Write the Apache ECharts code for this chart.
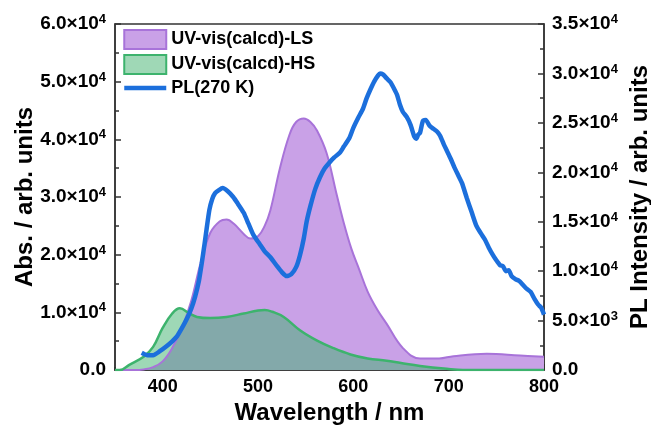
<!DOCTYPE html>
<html>
<head>
<meta charset="utf-8">
<script src="https://cdn.jsdelivr.net/npm/echarts@6/dist/echarts.min.js"></script>
<style>html,body{margin:0;padding:0;background:#fff;}#c{width:651px;height:425px;}</style>
</head>
<body>
<div id="c"></div>
<script>
// ---- data (values in units of 1e4) ----
var lsX = [350,370,380,390,400,410,420,430,440,450,460,467,475,485,492,500,507,513,523,533,540,548,555,562,572,582,590,598,606,615,625,635,652,670,690,705,740,775,800];
var lsY = [0,0,0.01,0.05,0.15,0.38,0.72,1.2,1.87,2.38,2.58,2.61,2.53,2.36,2.28,2.32,2.5,2.77,3.5,4.08,4.3,4.36,4.3,4.15,3.76,3.08,2.55,2.1,1.75,1.36,1.05,0.8,0.38,0.2,0.2,0.24,0.28,0.25,0.23];
var hsX = [350,355,365,380,390,400,410,418,428,436,450,467,485,500,507,515,527,544,562,579,597,615,635,650,670,698,715,800];
var hsY = [0,0,0.09,0.23,0.4,0.73,0.98,1.07,0.98,0.92,0.9,0.92,0.98,1.03,1.04,1.01,0.92,0.69,0.51,0.38,0.27,0.2,0.16,0.12,0.07,0.02,0,0];
var plX = [378,384,390,397,404,410,415,420,425,430,434,438,441,444,446,449,452,455,459,463,468,474,479,485,490,495,502,507,513,520,525,530,535,540,544,548,551,555,560,565,570,575,580,586,590,596,600,605,610,614,618,622,626,628,631,635,639,643,646,649,652,656,660,664,666,668,670,673,676,680,684,688,691,695,698,702,706,710,714,719,724,729,734,738,742,746,750,754,757,760,763,766,770,774,778,782,786,790,794,797,800];
var plY = [0.175,0.15,0.15,0.19,0.24,0.29,0.34,0.42,0.51,0.62,0.74,0.9,1.08,1.28,1.42,1.62,1.73,1.79,1.82,1.84,1.81,1.75,1.68,1.59,1.48,1.37,1.27,1.2,1.14,1.05,0.99,0.95,0.97,1.04,1.16,1.33,1.5,1.66,1.83,1.95,2.04,2.1,2.15,2.2,2.26,2.35,2.45,2.55,2.64,2.75,2.84,2.92,2.98,3.0,2.99,2.95,2.91,2.84,2.78,2.68,2.61,2.56,2.48,2.36,2.34,2.38,2.4,2.52,2.53,2.47,2.44,2.41,2.37,2.28,2.22,2.14,2.05,1.97,1.89,1.74,1.6,1.46,1.38,1.32,1.24,1.17,1.11,1.06,1.05,1.0,1.01,0.95,0.92,0.9,0.86,0.82,0.79,0.72,0.66,0.63,0.56];
var xTicks = [400,500,600,700,800];
var xMinor = [350,450,550,650,750];
var names = ['UV-vis(calcd)-LS','UV-vis(calcd)-HS','PL(270 K)'];

function pairs(xs, ys){ return xs.map(function(x,i){ return [x, ys[i]*1e4]; }); }
function sci(v){
  if (v === 0) return '{a|0.0}';
  var e = Math.floor(Math.log10(v) + 1e-9);
  var m = v / Math.pow(10, e);
  return '{a|' + m.toFixed(1) + '×10}{b|' + e + '}';
}
var FONT = 'Arial, "Liberation Sans", sans-serif';
var rich = {
  a: {fontFamily: FONT, fontSize: 19, fontWeight: 'bold', color: '#000', lineHeight: 22},
  b: {fontFamily: FONT, fontSize: 13, fontWeight: 'bold', color: '#000', verticalAlign: 'top', lineHeight: 12}
};
var axisLineStyle = {color: '#333', width: 1.5};

var chart = echarts.init(document.getElementById('c'), null, {renderer: 'canvas'});
chart.setOption({
  animation: false,
  backgroundColor: '#fff',
  grid: {left: 115, right: 107, top: 24, bottom: 55, outerBoundsMode: 'none', containLabel: false, show: true, borderColor: '#333', borderWidth: 1.5, backgroundColor: 'transparent'},
  legend: {
    orient: 'vertical', left: 122, top: 29, padding: 0, itemWidth: 42, itemHeight: 19, itemGap: 4,
    textStyle: {fontFamily: FONT, fontSize: 18, fontWeight: 'bold', color: '#000'},
    data: [
      {name: names[0], icon: 'rect', itemStyle: {color: '#c9a1e7', borderColor: '#a873d9', borderWidth: 2}},
      {name: names[1], icon: 'rect', itemStyle: {color: '#9fd8b6', borderColor: '#3db36d', borderWidth: 2}},
      {name: names[2], itemStyle: {opacity: 0}, lineStyle: {width: 4.5, color: '#1c6fdc'}}
    ]
  },
  xAxis: [{
    type: 'value', min: 350, max: 800, interval: 50,
    name: 'Wavelength / nm', nameLocation: 'middle', nameGap: 31, nameMoveOverlap: false,
    nameTextStyle: {fontFamily: FONT, fontSize: 24, fontWeight: 'bold', color: '#000'},
    axisLine: {lineStyle: axisLineStyle},
    axisTick: {inside: true, length: 6, lineStyle: {color: '#333', width: 1.5}, customValues: xTicks},
    axisLabel: {margin: 8, fontFamily: FONT, fontSize: 18, fontWeight: 'bold', color: '#000', customValues: xTicks},
    splitLine: {show: false}
  }, {
    type: 'value', min: 350, max: 800, interval: 50, position: 'bottom',
    axisLine: {show: false},
    axisTick: {inside: true, length: 3, lineStyle: {color: '#333', width: 1.5}, customValues: xMinor},
    axisLabel: {show: false},
    splitLine: {show: false}
  }],
  yAxis: [{
    type: 'value', min: 0, max: 60000, interval: 10000,
    name: 'Abs. / arb. units', nameLocation: 'middle', nameGap: 78, nameRotate: 90, nameMoveOverlap: false,
    nameTextStyle: {fontFamily: FONT, fontSize: 24, fontWeight: 'bold', color: '#000'},
    axisLine: {show: true, lineStyle: axisLineStyle},
    axisTick: {inside: true, length: 6, lineStyle: {color: '#333', width: 1.5}},
    minorTick: {show: true, splitNumber: 2, length: 4, lineStyle: {color: '#333', width: 1.5}},
    axisLabel: {margin: 9, formatter: sci, rich: rich},
    splitLine: {show: false}
  }, {
    type: 'value', min: 0, max: 35000, interval: 5000, position: 'right',
    name: 'PL Intensity / arb. units', nameLocation: 'middle', nameGap: 84, nameRotate: 90, nameMoveOverlap: false,
    nameTextStyle: {fontFamily: FONT, fontSize: 24, fontWeight: 'bold', color: '#000'},
    axisLine: {show: true, lineStyle: axisLineStyle},
    axisTick: {inside: true, length: 6, lineStyle: {color: '#333', width: 1.5}},
    minorTick: {show: true, splitNumber: 2, length: 4, lineStyle: {color: '#333', width: 1.5}},
    axisLabel: {margin: 8, formatter: sci, rich: rich},
    splitLine: {show: false}
  }],
  series: [{
    name: names[0], type: 'line', xAxisIndex: 0, yAxisIndex: 0, smooth: 0.4, symbol: 'none',
    data: pairs(lsX, lsY),
    lineStyle: {color: '#a873d9', width: 2},
    itemStyle: {color: '#a873d9'},
    areaStyle: {color: '#c9a1e7', opacity: 1}
  }, {
    name: names[1], type: 'line', xAxisIndex: 0, yAxisIndex: 0, smooth: 0.4, symbol: 'none',
    data: pairs(hsX, hsY),
    lineStyle: {color: '#3db36d', width: 2.5},
    itemStyle: {color: '#3db36d'},
    areaStyle: {color: 'rgb(61,177,109)', opacity: 0.5}
  }, {
    name: names[2], type: 'line', xAxisIndex: 0, yAxisIndex: 1, smooth: 0.2, symbol: 'none',
    data: pairs(plX, plY),
    lineStyle: {color: '#1c6fdc', width: 4.5},
    itemStyle: {color: '#1c6fdc'}
  }]
});
</script>
</body>
</html>
